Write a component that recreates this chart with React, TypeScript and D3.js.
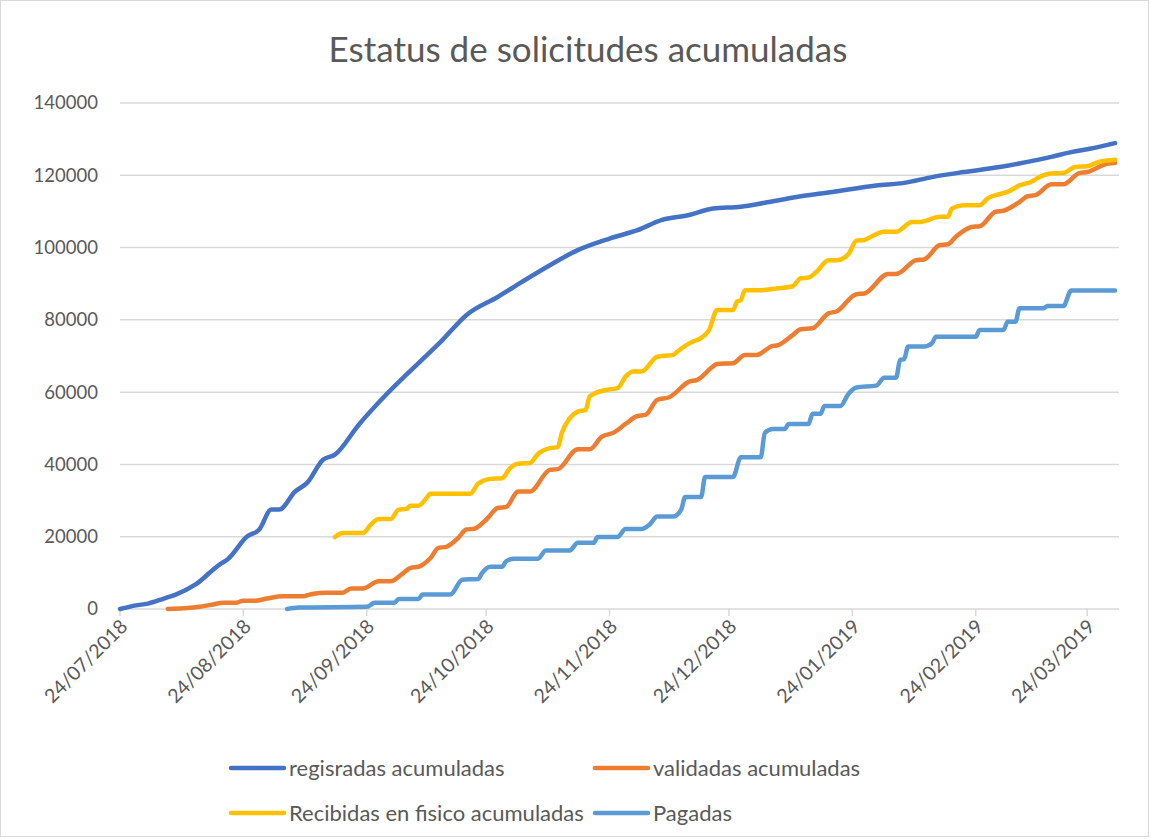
import * as d3 from 'd3'
import React, { useRef, useEffect } from 'react'

// values: [date, cumulative count]
const registradas: [string, number][] = [
  ['2018-07-24', 0], ['2018-07-28', 1000], ['2018-07-31', 1500], ['2018-08-04', 2900], ['2018-08-07', 4000],
  ['2018-08-12', 6800], ['2018-08-18', 12300], ['2018-08-20', 13700], ['2018-08-25', 20100], ['2018-08-28', 22000],
  ['2018-08-31', 27500], ['2018-09-02', 27500], ['2018-09-06', 32500], ['2018-09-09', 34900], ['2018-09-13', 41300],
  ['2018-09-16', 42700], ['2018-09-22', 51000], ['2018-09-28', 58300], ['2018-10-06', 67000], ['2018-10-13', 74400],
  ['2018-10-19', 81300], ['2018-10-27', 86400], ['2018-11-02', 90500], ['2018-11-09', 95100], ['2018-11-16', 99300],
  ['2018-11-24', 102500], ['2018-12-01', 104800], ['2018-12-07', 107600], ['2018-12-14', 109000], ['2018-12-20', 110800],
  ['2018-12-27', 111300], ['2019-01-02', 112400], ['2019-01-10', 114000], ['2019-01-19', 115400], ['2019-01-30', 117200],
  ['2019-02-06', 117900], ['2019-02-13', 119500], ['2019-02-21', 120900], ['2019-03-02', 122300], ['2019-03-09', 123700],
  ['2019-03-15', 125100], ['2019-03-20', 126400], ['2019-03-25', 127400], ['2019-03-31', 128900],
]

const validadas: [string, number][] = [
  ['2018-08-05', 0], ['2018-08-09', 200], ['2018-08-13', 600], ['2018-08-16', 1200], ['2018-08-19', 1700],
  ['2018-08-22', 1700], ['2018-08-24', 2300], ['2018-08-27', 2300], ['2018-08-30', 2900], ['2018-09-03', 3500],
  ['2018-09-08', 3500], ['2018-09-10', 4100], ['2018-09-14', 4500], ['2018-09-18', 4500], ['2018-09-20', 5700],
  ['2018-09-23', 5700], ['2018-09-27', 7700], ['2018-09-30', 7700], ['2018-10-03', 9800], ['2018-10-05', 11400],
  ['2018-10-07', 11700], ['2018-10-10', 14100], ['2018-10-12', 16900], ['2018-10-14', 17200], ['2018-10-17', 19700],
  ['2018-10-19', 22000], ['2018-10-21', 22200], ['2018-10-24', 24700], ['2018-10-27', 28000], ['2018-10-29', 28200],
  ['2018-11-01', 32500], ['2018-11-04', 32500], ['2018-11-09', 38500], ['2018-11-11', 38700], ['2018-11-16', 44200],
  ['2018-11-19', 44200], ['2018-11-22', 47600], ['2018-11-25', 48800], ['2018-11-28', 51200], ['2018-12-01', 53400],
  ['2018-12-03', 53700], ['2018-12-06', 57900], ['2018-12-09', 58600], ['2018-12-14', 62900], ['2018-12-16', 63400],
  ['2018-12-20', 67100], ['2018-12-21', 67800], ['2018-12-25', 68000], ['2018-12-28', 70300], ['2018-12-31', 70300],
  ['2019-01-04', 72800], ['2019-01-05', 72900], ['2019-01-09', 75800], ['2019-01-11', 77400], ['2019-01-14', 77700],
  ['2019-01-18', 81800], ['2019-01-20', 82300], ['2019-01-25', 87100], ['2019-01-27', 87300], ['2019-02-02', 92700],
  ['2019-02-04', 92700], ['2019-02-09', 96500], ['2019-02-11', 96700], ['2019-02-15', 100700], ['2019-02-17', 100900],
  ['2019-02-19', 103000], ['2019-02-23', 105700], ['2019-02-25', 105900], ['2019-03-01', 109900], ['2019-03-03', 110200],
  ['2019-03-07', 112600], ['2019-03-09', 114200], ['2019-03-11', 114500], ['2019-03-15', 117500], ['2019-03-18', 117500],
  ['2019-03-22', 120600], ['2019-03-24', 120900], ['2019-03-29', 123200], ['2019-03-31', 123400],
]

const recibidas: [string, number][] = [
  ['2018-09-16', 19900], ['2018-09-18', 21000], ['2018-09-23', 21000], ['2018-09-25', 23300], ['2018-09-27', 24900],
  ['2018-09-30', 24900], ['2018-10-02', 27500], ['2018-10-04', 27700], ['2018-10-05', 28600], ['2018-10-07', 28600],
  ['2018-10-09', 30700], ['2018-10-10', 31900], ['2018-10-20', 31900], ['2018-10-22', 34700], ['2018-10-25', 36000],
  ['2018-10-28', 36200], ['2018-10-30', 39000], ['2018-11-01', 40200], ['2018-11-04', 40400], ['2018-11-06', 42900],
  ['2018-11-09', 44500], ['2018-11-11', 44800], ['2018-11-12', 48700], ['2018-11-14', 52800], ['2018-11-16', 54600],
  ['2018-11-18', 55100], ['2018-11-19', 58800], ['2018-11-23', 60600], ['2018-11-26', 61100], ['2018-11-28', 64300],
  ['2018-11-30', 65700], ['2018-12-02', 65700], ['2018-12-06', 69800], ['2018-12-10', 70300], ['2018-12-11', 71200],
  ['2018-12-15', 74000], ['2018-12-16', 74400], ['2018-12-19', 77200], ['2018-12-21', 82700], ['2018-12-25', 82700],
  ['2018-12-26', 85000], ['2018-12-27', 85500], ['2018-12-28', 88200], ['2019-01-01', 88200], ['2019-01-05', 88700],
  ['2019-01-09', 89300], ['2019-01-11', 91500], ['2019-01-13', 91700], ['2019-01-15', 93300], ['2019-01-18', 96500],
  ['2019-01-20', 96500], ['2019-01-23', 98200], ['2019-01-25', 101900], ['2019-01-27', 102100], ['2019-01-29', 103200],
  ['2019-02-01', 104400], ['2019-02-04', 104400], ['2019-02-08', 107100], ['2019-02-10', 107100], ['2019-02-15', 108500],
  ['2019-02-17', 108500], ['2019-02-18', 110800], ['2019-02-21', 111700], ['2019-02-25', 111700], ['2019-02-27', 113600],
  ['2019-03-02', 114800], ['2019-03-04', 115400], ['2019-03-07', 117200], ['2019-03-10', 118200], ['2019-03-12', 119500],
  ['2019-03-15', 120500], ['2019-03-18', 120600], ['2019-03-21', 122300], ['2019-03-24', 122500], ['2019-03-27', 123700],
  ['2019-03-31', 124300],
]

const pagadas: [string, number][] = [
  ['2018-09-04', 0], ['2018-09-07', 400], ['2018-09-24', 600], ['2018-09-26', 1700], ['2018-10-01', 1700],
  ['2018-10-02', 2800], ['2018-10-07', 2800], ['2018-10-08', 4000], ['2018-10-15', 4000], ['2018-10-18', 8100],
  ['2018-10-22', 8300], ['2018-10-23', 10000], ['2018-10-25', 11700], ['2018-10-28', 11700], ['2018-10-29', 13200],
  ['2018-10-31', 13900], ['2018-11-06', 13900], ['2018-11-08', 16200], ['2018-11-14', 16200], ['2018-11-16', 18300],
  ['2018-11-20', 18300], ['2018-11-21', 19900], ['2018-11-26', 19900], ['2018-11-28', 22100], ['2018-12-02', 22100],
  ['2018-12-04', 23300], ['2018-12-06', 25600], ['2018-12-10', 25600], ['2018-12-12', 27500], ['2018-12-13', 31000],
  ['2018-12-17', 31000], ['2018-12-18', 36500], ['2018-12-25', 36500], ['2018-12-27', 42000], ['2019-01-01', 42000],
  ['2019-01-02', 48700], ['2019-01-04', 49800], ['2019-01-07', 49800], ['2019-01-08', 51200], ['2019-01-13', 51200],
  ['2019-01-14', 54000], ['2019-01-16', 54000], ['2019-01-17', 56200], ['2019-01-21', 56200], ['2019-01-23', 59500],
  ['2019-01-25', 61300], ['2019-01-30', 61800], ['2019-02-01', 64000], ['2019-02-04', 64000], ['2019-02-05', 68900],
  ['2019-02-06', 69100], ['2019-02-07', 72600], ['2019-02-11', 72600], ['2019-02-13', 73500], ['2019-02-14', 75300],
  ['2019-02-24', 75300], ['2019-02-25', 77200], ['2019-03-03', 77200], ['2019-03-04', 79500], ['2019-03-06', 79500],
  ['2019-03-07', 83200], ['2019-03-13', 83200], ['2019-03-14', 83800], ['2019-03-18', 83800], ['2019-03-20', 88100],
  ['2019-03-31', 88100],
]

const seriesNames = ['regisradas acumuladas', 'validadas acumuladas', 'Recibidas en fisico acumuladas', 'Pagadas']
const seriesColors = ['#4472C4', '#ED7D31', '#FFC000', '#5B9BD5']
const xTickLabels = ['24/07/2018', '24/08/2018', '24/09/2018', '24/10/2018', '24/11/2018', '24/12/2018', '24/01/2019', '24/02/2019', '24/03/2019']
const yTicks = [0, 20000, 40000, 60000, 80000, 100000, 120000, 140000]

export default function App() {
  const svgRef = useRef<SVGSVGElement>(null)

  useEffect(() => {
    const w = 1151
    const h = 839
    const left = 120, right = 1119, top = 103, bottom = 609
    const font = 'Lato, "Open Sans", sans-serif'
    const grey = '#595959'

    const svg = d3.select(svgRef.current)
    svg.selectAll('*').remove()
    svg.attr('width', w).attr('height', h)

    svg.append('rect')
      .attr('x', 0.5).attr('y', 0.5)
      .attr('width', 1148).attr('height', 836)
      .attr('fill', 'white').attr('stroke', '#d9d9d9')

    const parse = d3.timeParse('%Y-%m-%d')
    const parseTick = d3.timeParse('%d/%m/%Y')

    const x = d3.scaleTime()
      .domain([parse('2018-07-24')!, parse('2019-04-01')!])
      .range([left, right])
    const y = d3.scaleLinear().domain([0, 140000]).range([bottom, top])

    // title
    svg.append('text')
      .attr('x', 588).attr('y', 62)
      .attr('text-anchor', 'middle')
      .style('font-family', font).style('font-size', '35px')
      .attr('fill', grey)
      .text('Estatus de solicitudes acumuladas')

    // gridlines
    svg.append('g').selectAll('line')
      .data(yTicks.filter(d => d > 0))
      .join('line')
      .attr('x1', left).attr('x2', right)
      .attr('y1', d => y(d)).attr('y2', d => y(d))
      .attr('stroke', '#d9d9d9').attr('stroke-width', 1.5)

    // y labels
    svg.append('g').selectAll('text')
      .data(yTicks)
      .join('text')
      .attr('x', 98).attr('y', d => y(d))
      .attr('dy', '0.35em')
      .attr('text-anchor', 'end')
      .style('font-family', font).style('font-size', '18.5px')
      .attr('fill', grey)
      .text(d => String(d))

    // x axis line and ticks
    svg.append('line')
      .attr('x1', left).attr('x2', right)
      .attr('y1', bottom).attr('y2', bottom)
      .attr('stroke', '#d9d9d9').attr('stroke-width', 1.5)

    const tickDates = xTickLabels.map(s => parseTick(s)!)
    svg.append('g').selectAll('line')
      .data(tickDates)
      .join('line')
      .attr('x1', d => x(d)).attr('x2', d => x(d))
      .attr('y1', bottom).attr('y2', bottom + 7)
      .attr('stroke', '#d9d9d9').attr('stroke-width', 1.5)

    svg.append('g').selectAll('text')
      .data(xTickLabels)
      .join('text')
      .attr('transform', s => `translate(${x(parseTick(s)!) + 4},${bottom + 14}) rotate(-45)`)
      .attr('text-anchor', 'end')
      .attr('dy', '0.35em')
      .style('font-family', font).style('font-size', '19.5px')
      .attr('fill', grey)
      .text(s => s)

    // lines
    const line = d3.line<[string, number]>()
      .x(d => x(parse(d[0])!))
      .y(d => y(d[1]))
      .curve(d3.curveMonotoneX)

    const allSeries = [registradas, validadas, recibidas, pagadas]
    svg.append('g').selectAll('path')
      .data(allSeries)
      .join('path')
      .attr('d', d => line(d))
      .attr('fill', 'none')
      .attr('stroke', (_, i) => seriesColors[i])
      .attr('stroke-width', 4.5)
      .attr('stroke-linecap', 'round')
      .attr('stroke-linejoin', 'round')

    // legend
    const legendPos = [[231, 768], [595, 768], [231, 813], [595, 813]]
    const lg = svg.append('g').selectAll('g')
      .data(seriesNames)
      .join('g')
      .attr('transform', (_, i) => `translate(${legendPos[i][0]},${legendPos[i][1]})`)
    lg.append('line')
      .attr('x1', 0).attr('x2', 53)
      .attr('stroke', (_, i) => seriesColors[i])
      .attr('stroke-width', 4.5)
      .attr('stroke-linecap', 'round')
    lg.append('text')
      .attr('x', 58).attr('dy', '0.35em')
      .style('font-family', font).style('font-size', '22px')
      .attr('fill', grey)
      .text(d => d)
  }, [])

  return (
    <div style={{ position: 'absolute', left: 0, top: 0 }}>
      <svg ref={svgRef}></svg>
    </div>
  )
}
